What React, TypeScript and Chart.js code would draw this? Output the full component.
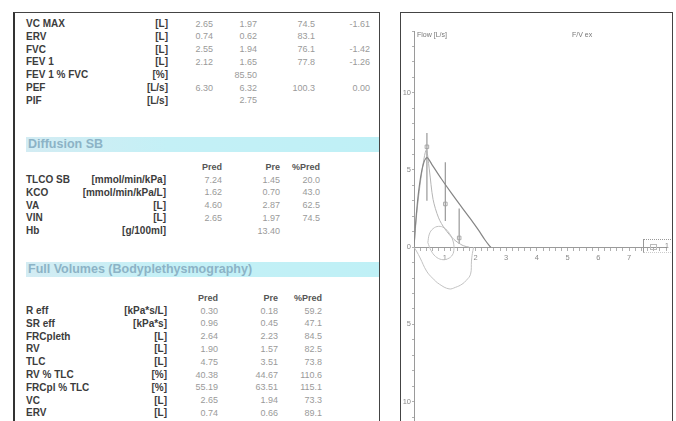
import React, { useEffect, useRef } from "react";
import { Chart, registerables } from "chart.js";

Chart.register(...registerables);
Chart.defaults.font.family = "'Liberation Sans', Arial, sans-serif";

// ---------- table data ----------
const spiroLabels = ["VC MAX", "ERV", "FVC", "FEV 1", "FEV 1 % FVC", "PEF", "PIF"];
const spiroUnits = ["[L]", "[L]", "[L]", "[L]", "[%]", "[L/s]", "[L/s]"];
const spiroPred = ["2.65", "0.74", "2.55", "2.12", "", "6.30", ""];
const spiroAct = ["1.97", "0.62", "1.94", "1.65", "85.50", "6.32", "2.75"];
const spiroPct = ["74.5", "83.1", "76.1", "77.8", "", "100.3", ""];
const spiroZ = ["-1.61", "", "-1.42", "-1.26", "", "0.00", ""];

const diffTitle = "Diffusion SB";
const diffLabels = ["TLCO SB", "KCO", "VA", "VIN", "Hb"];
const diffUnits = ["[mmol/min/kPa]", "[mmol/min/kPa/L]", "[L]", "[L]", "[g/100ml]"];
const diffPred = ["7.24", "1.62", "4.60", "2.65", ""];
const diffPre = ["1.45", "0.70", "2.87", "1.97", "13.40"];
const diffPct = ["20.0", "43.0", "62.5", "74.5", ""];

const volTitle = "Full Volumes (Bodyplethysmography)";
const volLabels = ["R eff", "SR eff", "FRCpleth", "RV", "TLC", "RV % TLC", "FRCpl % TLC", "VC", "ERV"];
const volUnits = ["[kPa*s/L]", "[kPa*s]", "[L]", "[L]", "[L]", "[%]", "[%]", "[L]", "[L]"];
const volPred = ["0.30", "0.96", "2.64", "1.90", "4.75", "40.38", "55.19", "2.65", "0.74"];
const volPre = ["0.18", "0.45", "2.23", "1.57", "3.51", "44.67", "63.51", "1.94", "0.66"];
const volPct = ["59.2", "47.1", "84.5", "82.5", "73.8", "110.6", "115.1", "73.3", "89.1"];

const colHeaders = ["Pred", "Pre", "%Pred"];

// ---------- chart data (volume L, flow L/s) ----------
const expVol = [0, 0.05, 0.15, 0.28, 0.42, 0.6, 0.9, 1.2, 1.55, 1.85, 2.1, 2.3, 2.45, 2.5];
const expFlow = [0, 1.5, 3.6, 5.2, 5.8, 5.3, 4.4, 3.55, 2.6, 1.8, 1.1, 0.5, 0.1, 0];

const exp2Vol = [0, 0.1, 0.25, 0.4, 0.5, 0.62, 0.8, 1.0, 1.3, 1.6, 1.8];
const exp2Flow = [0, 2.4, 4.8, 6.3, 5.0, 3.1, 1.9, 1.2, 0.5, 0.1, 0];

const inspVol = [1.94, 1.9, 1.87, 1.84, 1.7, 1.56, 1.35, 1.14, 0.83, 0.6, 0.41, 0.2, 0.08, 0];
const inspFlow = [0, -0.4, -0.9, -1.75, -2.15, -2.4, -2.6, -2.7, -2.4, -2.0, -1.55, -0.7, -0.25, 0];

const tidalVol = [0.45, 0.5, 0.62, 0.8, 0.98, 1.15, 1.27, 1.3, 1.25, 1.1, 0.9, 0.7, 0.55, 0.45];
const tidalFlow = [0.3, 0.85, 1.2, 1.35, 1.25, 0.9, 0.4, -0.1, -0.5, -0.75, -0.8, -0.6, -0.2, 0.3];

const barVol = [0.42, 1.02, 1.47];
const barTop = [7.4, 5.5, 2.5];
const barBottom = [3.0, 1.7, 0.2];
const markFlow = [6.5, 2.8, 0.6];

const xMin = 0;
const xMax = 8.2;
const yMin = -12;
const yMax = 14;

const LABEL_FONT = "'Liberation Sans', Arial, sans-serif";

function Cell({ x, y, text, align = "left", bold = false, color = "#9a9a9a", size = 9 }: any) {
  const style: any = {
    position: "absolute",
    top: y - size * 0.6,
    fontSize: size,
    lineHeight: `${size * 1.2}px`,
    fontWeight: bold ? "bold" : "normal",
    color,
    whiteSpace: "nowrap",
  };
  if (align === "right") {
    style.right = 676 - x;
  } else {
    style.left = x;
  }
  return <div style={style}>{text}</div>;
}

function Label({ x, y, text, align = "left" }: any) {
  return <Cell x={x} y={y} text={text} align={align} bold color="#3c3c3c" size={10} />;
}

function SectionBar({ y, title }: any) {
  return (
    <div
      style={{
        position: "absolute",
        left: 26,
        top: y,
        width: 353,
        height: 15,
        background: "linear-gradient(90deg, #d3ecf3 0%, #c4f0f6 40%, #bff0f6 100%)",
      }}
    >
      <div
        style={{
          position: "absolute",
          left: 2,
          top: 0,
          fontSize: 12.5,
          lineHeight: "15px",
          fontWeight: "bold",
          color: "#8cb3c6",
          whiteSpace: "nowrap",
        }}
      >
        {title}
      </div>
    </div>
  );
}

function FlowChart() {
  const ref = useRef<HTMLCanvasElement>(null);
  useEffect(() => {
    const pts = (xs: number[], ys: number[]) => xs.map((x, i) => ({ x, y: ys[i] }));
    const line = (data: any, color: string, width = 1, tension = 0.3) => ({
      data,
      showLine: true,
      borderColor: color,
      borderWidth: width,
      pointRadius: 0,
      tension,
      fill: false,
    });
    const datasets: any[] = [
      line(pts(expVol, expFlow), "#858585", 1.2),
      line(pts(exp2Vol, exp2Flow), "#b5b5b5", 1),
      line(pts(inspVol, inspFlow), "#c2c2c2", 1, 0.4),
      line(pts(tidalVol, tidalFlow), "#c2c2c2", 1, 0.4),
    ];
    barVol.forEach((v, i) => {
      datasets.push(line([{ x: v, y: barTop[i] }, { x: v, y: barBottom[i] }], "#a0a0a0", 1.3, 0));
    });
    datasets.push({
      data: pts(barVol, markFlow),
      showLine: false,
      pointStyle: "rect",
      pointRadius: 2.5,
      borderColor: "#aaaaaa",
      borderWidth: 1,
      backgroundColor: "rgba(255,255,255,0)",
    });

    const near = (v: number) => Math.abs(v - Math.round(v)) < 1e-6;
    const chart = new Chart(ref.current as HTMLCanvasElement, {
      type: "scatter",
      data: { datasets },
      options: {
        animation: false,
        responsive: false,
        maintainAspectRatio: false,
        layout: { padding: { top: 18, bottom: 4, left: 0, right: 0 } },
        plugins: { legend: { display: false }, tooltip: { enabled: false } },
        scales: {
          x: {
            type: "linear",
            min: xMin,
            max: xMax,
            position: { y: 0 } as any,
            afterFit: (s: any) => {
              s.height = 0;
            },
            border: { display: true, color: "#9a9a9a", width: 1 },
            grid: { drawOnChartArea: false, drawTicks: true, tickLength: 3, color: "#b0b0b0" },
            ticks: {
              stepSize: 0.2,
              autoSkip: false,
              maxRotation: 0,
              color: "#8a8a8a",
              padding: 3,
              font: { size: 7.5 },
              callback: (v: any) =>
                near(v) && Math.round(v) > 0 && Math.round(v) < 8 ? String(Math.round(v)) : "",
            },
          },
          y: {
            type: "linear",
            min: yMin,
            max: yMax,
            position: "left",
            afterFit: (s: any) => {
              s.width = 13;
            },
            border: { display: true, color: "#9a9a9a", width: 1 },
            grid: { drawOnChartArea: false, drawTicks: true, tickLength: 2, color: "#b0b0b0" },
            ticks: {
              stepSize: 1,
              autoSkip: false,
              color: "#8a8a8a",
              padding: 1,
              font: { size: 7.5 },
              callback: (v: any) =>
                near(v) && Math.round(v) % 5 === 0 ? String(Math.abs(Math.round(v))) : "",
            },
          },
        },
      },
    });
    return () => chart.destroy();
  }, []);
  return (
    <canvas
      ref={ref}
      width={270}
      height={425}
      style={{ position: "absolute", left: 401, top: 13, width: 270, height: 425 }}
    />
  );
}

export default function App() {
  const step = 12.8;
  const topY0 = 24;
  const diffHeadY = 167;
  const diffY0 = 180;
  const volHeadY = 298;
  const volY0 = 311;

  return (
    <div
      style={{
        position: "fixed",
        left: 0,
        top: 0,
        width: 676,
        height: 421,
        overflow: "hidden",
        background: "#fff",
        fontFamily: LABEL_FONT,
      }}
    >
      {/* left panel */}
      <div
        style={{
          position: "absolute",
          left: 13,
          top: 12,
          width: 367,
          height: 430,
          borderLeft: "2px solid #333",
          borderTop: "1px solid #444",
          borderRight: "1px solid #444",
          boxSizing: "border-box",
        }}
      />
      {spiroLabels.map((l, i) => {
        const y = topY0 + i * step;
        return (
          <React.Fragment key={"s" + i}>
            <Label x={26} y={y} text={l} />
            <Label x={168} y={y} text={spiroUnits[i]} align="right" />
            <Cell x={213} y={y} text={spiroPred[i]} align="right" />
            <Cell x={257} y={y} text={spiroAct[i]} align="right" />
            <Cell x={315} y={y} text={spiroPct[i]} align="right" />
            <Cell x={370} y={y} text={spiroZ[i]} align="right" />
          </React.Fragment>
        );
      })}

      <SectionBar y={137} title={diffTitle} />
      <Cell x={222} y={diffHeadY} text={colHeaders[0]} align="right" bold color="#555" />
      <Cell x={280} y={diffHeadY} text={colHeaders[1]} align="right" bold color="#555" />
      <Cell x={320} y={diffHeadY} text={colHeaders[2]} align="right" bold color="#555" />
      {diffLabels.map((l, i) => {
        const y = diffY0 + i * step;
        return (
          <React.Fragment key={"d" + i}>
            <Label x={26} y={y} text={l} />
            <Label x={166} y={y} text={diffUnits[i]} align="right" />
            <Cell x={222} y={y} text={diffPred[i]} align="right" />
            <Cell x={280} y={y} text={diffPre[i]} align="right" />
            <Cell x={320} y={y} text={diffPct[i]} align="right" />
          </React.Fragment>
        );
      })}

      <SectionBar y={262} title={volTitle} />
      <Cell x={218} y={volHeadY} text={colHeaders[0]} align="right" bold color="#555" />
      <Cell x={278} y={volHeadY} text={colHeaders[1]} align="right" bold color="#555" />
      <Cell x={322} y={volHeadY} text={colHeaders[2]} align="right" bold color="#555" />
      {volLabels.map((l, i) => {
        const y = volY0 + i * step;
        return (
          <React.Fragment key={"v" + i}>
            <Label x={26} y={y} text={l} />
            <Label x={167} y={y} text={volUnits[i]} align="right" />
            <Cell x={218} y={y} text={volPred[i]} align="right" />
            <Cell x={278} y={y} text={volPre[i]} align="right" />
            <Cell x={322} y={y} text={volPct[i]} align="right" />
          </React.Fragment>
        );
      })}

      {/* right panel */}
      <div
        style={{
          position: "absolute",
          left: 400,
          top: 12,
          width: 273,
          height: 430,
          border: "1px solid #444",
          boxSizing: "border-box",
        }}
      />
      <FlowChart />
      <Cell x={417} y={35} text="Flow [L/s]" size={7} color="#777" />
      <Cell x={572} y={35} text="F/V ex" size={7} color="#777" />
      {/* small legend box */}
      <div
        style={{
          position: "absolute",
          left: 643,
          top: 239,
          width: 28,
          height: 14,
          borderTop: "1px dotted #999",
          borderLeft: "1px solid #999",
          borderBottom: "1px dotted #ccc",
          boxSizing: "border-box",
        }}
      >
        <div
          style={{
            position: "absolute",
            left: 6,
            top: 4,
            width: 5,
            height: 4,
            border: "1px solid #bbb",
          }}
        />
        <div style={{ position: "absolute", left: 21, top: 2, fontSize: 7, color: "#888" }}>1</div>
      </div>
    </div>
  );
}
